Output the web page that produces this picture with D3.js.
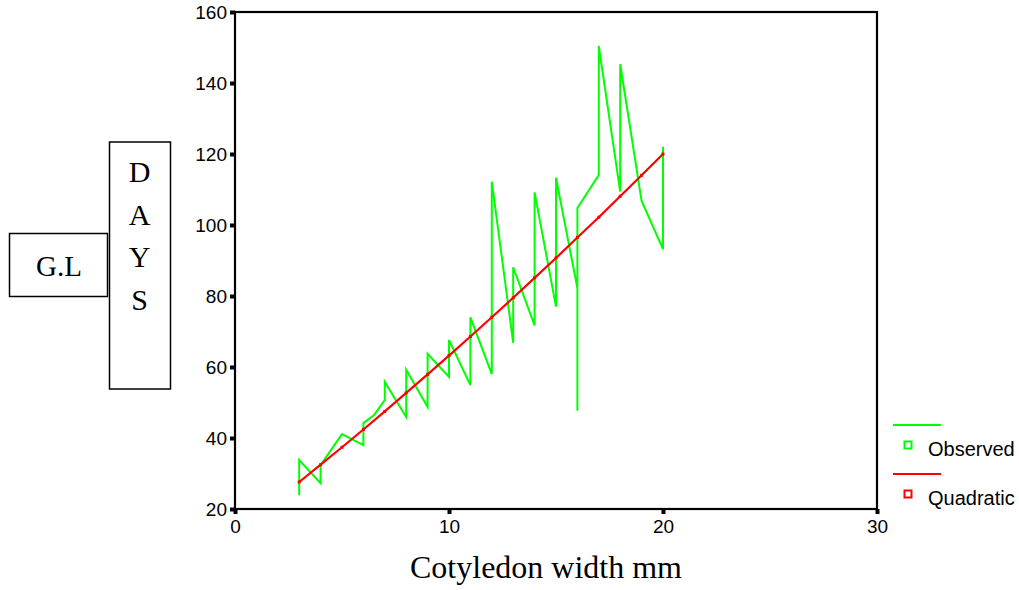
<!DOCTYPE html>
<html>
<head>
<meta charset="utf-8">
<script src="https://cdn.jsdelivr.net/npm/d3@7"></script>
<style>
    body { margin: 0; background: #fff; }
    svg { display: block; }
</style>
</head>
<body>
<div id="chart"></div>
<script>
// observed points, in the order the line joins them
var obsX = [3, 3, 4, 4, 5, 6, 6, 6.5, 7, 7, 8, 8, 9, 9, 10, 10, 11, 11, 12, 12,
    13, 13, 14, 14, 15, 15, 16, 16, 16, 17, 17, 18, 18, 19, 20, 20];
var obsY = [23.9, 33.8, 27.3, 32.4, 41.1, 38, 44.2, 46.5, 50.7, 55.8, 45.9, 59.2, 48.7, 63.7, 57.2, 67.6, 54.9, 74, 58, 112.2,
    66.8, 88.1, 71.7, 109.2, 77, 113.3, 82.2, 47.7, 104.8, 114.1, 150.4, 109.4, 145.3, 106.8, 93.2, 122];

// quadratic fit
var fitX = [3, 4, 5, 6, 7, 8, 9, 10, 11, 12, 13, 14, 15, 16, 17, 18, 19, 20];
var fitY = [27.6, 32.5, 37.4, 42.4, 47.5, 52.7, 57.9, 63.2, 68.6, 74.0, 79.5, 85.1, 90.7, 96.5, 102.2, 108.1, 114.0, 120.0];

var xTicks = [0, 10, 20, 30];
var yTicks = [20, 40, 60, 80, 100, 120, 140, 160];
var seriesNames = ["Observed", "Quadratic"];
var seriesColors = ["#00ff00", "#ff0000"];

var margin = {
    top: 12,
    right: 142,
    bottom: 81,
    left: 235
}
var W = 1019, H = 590;
var width = W - margin.left - margin.right;
var height = H - margin.top - margin.bottom;

var svg = d3.select("#chart").append("svg")
    .attr("width", W)
    .attr("height", H);

var g = svg.append("g")
    .attr("transform", "translate(" + margin.left + "," + margin.top + ")");

var x = d3.scaleLinear().domain([0, 30]).range([0, width]);
var y = d3.scaleLinear().domain([20, 160]).range([height, 0]);

// axes with the little square ticks
var xAxis = g.append("g")
    .attr("transform", "translate(0," + height + ")")
    .call(d3.axisBottom(x).tickValues(xTicks).tickSize(5).tickPadding(6));
var yAxis = g.append("g")
    .call(d3.axisLeft(y).tickValues(yTicks).tickSize(5).tickPadding(3));

[xAxis, yAxis].forEach(function (a) {
    a.select(".domain").remove();
    a.selectAll(".tick line").attr("stroke", "#000").attr("stroke-width", 4);
    a.selectAll(".tick text")
        .attr("fill", "#000")
        .attr("font-family", "Liberation Sans, Arial, sans-serif")
        .attr("font-size", "19px");
});

// plot frame
g.append("rect")
    .attr("x", 0)
    .attr("y", 0)
    .attr("width", width)
    .attr("height", height)
    .attr("fill", "none")
    .attr("stroke", "#000")
    .attr("stroke-width", 2.2);

var obs = obsX.map(function (d, i) { return [d, obsY[i]]; });
var fit = fitX.map(function (d, i) { return [d, fitY[i]]; });

var line = d3.line()
    .x(function (d) { return x(d[0]); })
    .y(function (d) { return y(d[1]); });

g.append("path")
    .datum(obs)
    .attr("d", line)
    .attr("fill", "none")
    .attr("stroke", seriesColors[0])
    .attr("stroke-width", 2);

g.append("path")
    .datum(fit)
    .attr("d", line)
    .attr("fill", "none")
    .attr("stroke", seriesColors[1])
    .attr("stroke-width", 2.2);

// tiny markers on the fitted curve
g.selectAll(".fitdot")
    .data(fit)
    .enter().append("rect")
    .attr("class", "fitdot")
    .attr("x", function (d) { return x(d[0]) - 1.5; })
    .attr("y", function (d) { return y(d[1]) - 1.5; })
    .attr("width", 3)
    .attr("height", 3)
    .attr("fill", seriesColors[1]);

// x title
svg.append("text")
    .attr("x", 546)
    .attr("y", 578)
    .attr("text-anchor", "middle")
    .attr("font-family", "Liberation Serif, Times New Roman, serif")
    .attr("font-size", "32px")
    .text("Cotyledon width mm");

// y title boxes
svg.append("rect")
    .attr("x", 9.5).attr("y", 233.5)
    .attr("width", 98).attr("height", 63)
    .attr("fill", "none").attr("stroke", "#000").attr("stroke-width", 1.5);
svg.append("text")
    .attr("x", 59)
    .attr("y", 276)
    .attr("text-anchor", "middle")
    .attr("font-family", "Liberation Serif, Times New Roman, serif")
    .attr("font-size", "29px")
    .text("G.L");

svg.append("rect")
    .attr("x", 109.5).attr("y", 142)
    .attr("width", 61).attr("height", 247)
    .attr("fill", "none").attr("stroke", "#000").attr("stroke-width", 1.5);
svg.selectAll(".days")
    .data(["D", "A", "Y", "S"])
    .enter().append("text")
    .attr("class", "days")
    .attr("x", 139.5)
    .attr("y", function (d, i) { return 182 + i * 42.5; })
    .attr("text-anchor", "middle")
    .attr("font-family", "Liberation Serif, Times New Roman, serif")
    .attr("font-size", "30px")
    .text(function (d) { return d; });

// legend
var legend = svg.selectAll(".legend")
    .data(seriesNames)
    .enter().append("g")
    .attr("class", "legend")
    .attr("transform", function (d, i) { return "translate(893," + (425 + i * 49) + ")"; });

legend.append("line")
    .attr("x1", 0).attr("x2", 48)
    .attr("y1", 0).attr("y2", 0)
    .attr("stroke", function (d, i) { return seriesColors[i]; })
    .attr("stroke-width", 2);
legend.append("rect")
    .attr("x", 11.5).attr("y", 16.5)
    .attr("width", 7).attr("height", 7)
    .attr("fill", "none")
    .attr("stroke", function (d, i) { return seriesColors[i]; })
    .attr("stroke-width", 2);
legend.append("text")
    .attr("x", 35)
    .attr("y", 31)
    .attr("font-family", "Liberation Sans, Arial, sans-serif")
    .attr("font-size", "20px")
    .text(function (d) { return d; });
</script>
</body>
</html>
